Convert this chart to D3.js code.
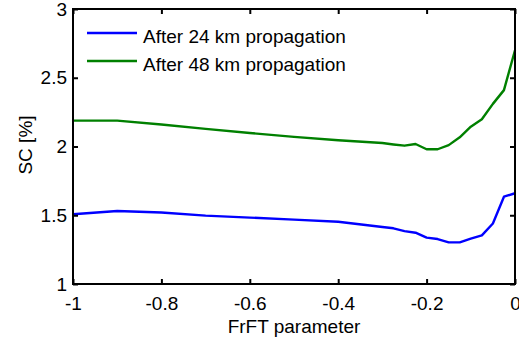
<!DOCTYPE html>
<html><head><meta charset="utf-8">
<script src="https://cdn.jsdelivr.net/npm/d3@7"></script>
<style>body{margin:0;background:#fff}svg{display:block}text{font-family:"Liberation Sans",Arial,sans-serif}</style>
</head><body>
<svg id="c" width="519" height="347"></svg>
<script>
const xParam = [-1, -0.9, -0.8, -0.7, -0.6, -0.5, -0.4, -0.3, -0.275, -0.25, -0.225, -0.2, -0.175, -0.15, -0.125, -0.1, -0.075, -0.05, -0.025, 0];
const sc24km = [1.507, 1.531, 1.52, 1.497, 1.483, 1.468, 1.453, 1.415, 1.405, 1.385, 1.373, 1.337, 1.327, 1.303, 1.303, 1.33, 1.354, 1.44, 1.635, 1.66];
const sc48km = [2.188, 2.188, 2.16, 2.128, 2.098, 2.07, 2.045, 2.025, 2.015, 2.006, 2.018, 1.98, 1.98, 2.01, 2.067, 2.144, 2.198, 2.31, 2.41, 2.70];
const seriesNames = ["After 24 km propagation", "After 48 km propagation"];
const seriesColors = ["#0000ff", "#008000"];
const xTicks = [-1, -0.8, -0.6, -0.4, -0.2, 0];
const yTicks = [1, 1.5, 2, 2.5, 3];

const svg = d3.select("#c");
const L = 73, R = 515, T = 9, B = 284;
const FS = 19;
const x = d3.scaleLinear().domain([-1, 0]).range([L, R]);
const y = d3.scaleLinear().domain([1, 3]).range([B, T]);
const fmt = d => d === 0 ? "0" : String(d);

const series = [sc24km, sc48km];
const line = d3.line().x((d, i) => x(xParam[i])).y(d => y(d));
series.forEach((s, k) => {
  svg.append("path").datum(s).attr("d", line).attr("fill", "none")
    .attr("stroke", seriesColors[k]).attr("stroke-width", 2.4).attr("stroke-linejoin", "round");
});

const styleAxis = g => {
  g.select(".domain").remove();
  g.selectAll("text").attr("font-size", FS).attr("fill", "#000").style("font-family", "Liberation Sans, Arial, sans-serif");
  g.selectAll("line").attr("stroke", "#000").attr("stroke-width", 2);
};
svg.append("g").attr("transform", `translate(0,${B})`)
  .call(d3.axisBottom(x).tickValues(xTicks).tickFormat(fmt).tickSizeInner(-5).tickSizeOuter(0).tickPadding(13))
  .call(styleAxis);
svg.append("g").attr("transform", `translate(0,${T})`)
  .call(d3.axisTop(x).tickValues(xTicks).tickFormat("").tickSizeInner(-5).tickSizeOuter(0))
  .call(styleAxis);
svg.append("g").attr("transform", `translate(${L},0)`)
  .call(d3.axisLeft(y).tickValues(yTicks).tickFormat(fmt).tickSizeInner(-5).tickSizeOuter(0).tickPadding(6))
  .call(styleAxis);
svg.append("g").attr("transform", `translate(${R},0)`)
  .call(d3.axisRight(y).tickValues(yTicks).tickFormat("").tickSizeInner(-5).tickSizeOuter(0))
  .call(styleAxis);

svg.append("rect").attr("x", L).attr("y", T).attr("width", R - L).attr("height", B - T)
  .attr("fill", "none").attr("stroke", "#000").attr("stroke-width", 2);

svg.append("text").attr("x", (L + R) / 2).attr("y", 333).attr("text-anchor", "middle")
  .attr("font-size", FS).text("FrFT parameter");
svg.append("text").attr("transform", `translate(32,145) rotate(-90)`).attr("text-anchor", "middle")
  .attr("font-size", FS).text("SC [%]");

seriesNames.forEach((n, k) => {
  const ly = 33 + k * 28;
  svg.append("line").attr("x1", 87).attr("x2", 137).attr("y1", ly).attr("y2", ly)
    .attr("stroke", seriesColors[k]).attr("stroke-width", 2.4);
  svg.append("text").attr("x", 143).attr("y", ly + 10).attr("font-size", FS).text(n);
});
</script>
</body></html>
